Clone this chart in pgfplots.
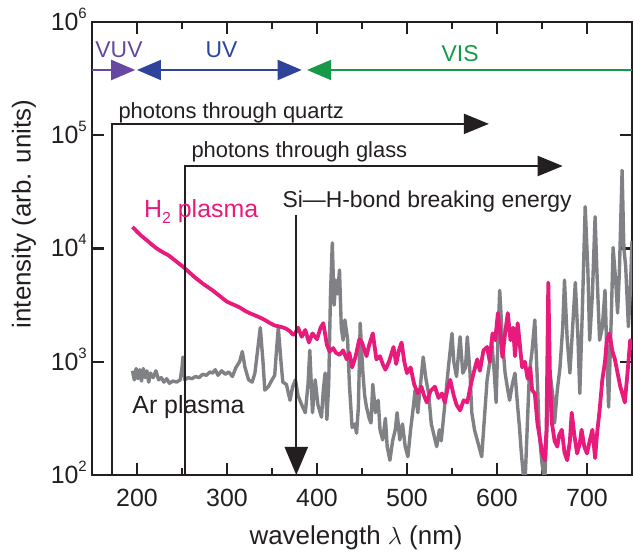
\documentclass[border=0pt]{standalone}
\usepackage{fontspec}
\setmainfont{Liberation Sans}
\usepackage{pgfplots}
\pgfplotsset{compat=1.18}
\usepackage{pgfplotstable}
\usetikzlibrary{arrows.meta}

\definecolor{h2col}{RGB}{232,26,124}
\definecolor{arcol}{RGB}{128,129,132}
\definecolor{vuvcol}{RGB}{102,72,160}
\definecolor{uvcol}{RGB}{46,68,155}
\definecolor{viscol}{RGB}{22,154,72}
\definecolor{ink}{RGB}{35,31,32}

% emission spectrum of the Ar plasma (wavelength in nm, intensity in arb. units)
\pgfplotstableread{
nm  I
195 832
197 692
199 871
201 708
203 851
205 676
207 871
209 724
211 832
213 661
215 794
218 724
221 832
224 692
227 724
230 661
233 708
236 646
240 676
244 661
248 692
250 891
251 1100
253 692
257 724
261 708
265 741
269 724
273 776
277 759
281 813
284 794
287 851
290 759
294 832
298 776
302 813
306 741
310 891
314 1000
317 1230
320 891
324 692
328 661
331 794
334 1260
337 2000
340 1000
342 562
346 603
350 692
353 759
355 1260
357 2000
360 1000
362 661
366 631
370 457
373 603
376 692
379 501
383 417
387 355
390 631
392 1260
395 355
398 692
401 417
405 324
407 562
409 794
411 309
413 631
415 3980
417 11200
419 3160
421 5250
423 3980
425 6460
427 2000
429 1550
431 2340
434 1580
436 631
439 263
442 282
444 234
446 398
448 2190
451 794
453 501
455 398
458 316
460 288
462 631
465 355
468 457
470 251
473 204
476 316
478 178
481 135
484 200
487 251
489 355
492 204
495 282
498 178
501 145
504 251
507 398
509 562
512 355
515 631
518 1100
521 708
524 525
527 282
530 224
533 178
536 251
538 200
540 288
543 501
546 891
548 1260
550 1780
552 1000
555 741
557 1120
559 1660
562 794
565 891
567 1660
570 794
572 355
575 251
578 204
580 178
583 145
586 316
589 692
592 1000
594 1550
597 794
599 437
601 1580
603 4270
606 1580
609 794
612 562
614 457
617 631
620 794
623 398
625 263
627 158
629 105
631 79
633 200
636 794
639 1260
642 2340
645 631
647 234
650 126
653 89
656 316
659 794
662 501
664 288
667 562
670 891
673 2000
675 5250
678 1580
681 794
684 2000
687 5010
690 1580
692 525
695 3160
698 23400
701 6310
703 1550
706 3980
709 19100
711 6310
714 1550
717 2000
720 4270
722 1260
724 398
727 2510
729 10200
732 5010
734 2690
736 6310
739 49000
741 10000
743 6920
746 2040
748 3980
750 11700
}\arplasma

% emission spectrum of the H2 plasma
\pgfplotstableread{
nm  I
195 15500
200 14100
205 12900
210 12000
216 10900
222 10000
228 9330
235 8710
243 7760
251 6920
258 6170
265 5500
274 4840
284 4270
292 3800
300 3390
307 3200
314 3020
320 2820
325 2690
331 2570
337 2450
342 2340
348 2190
353 2090
359 2040
363 2000
366 1950
370 1860
373 1740
375 1740
379 2000
383 1660
387 1910
391 1480
395 1780
400 1580
404 2000
407 2190
411 1410
414 1230
418 1320
421 1200
425 1150
429 1260
433 1050
436 1200
439 891
443 1120
447 1580
450 1480
455 1120
458 1410
462 1780
466 1050
470 1120
473 955
476 851
480 1000
485 1350
488 955
491 1260
494 1480
497 1000
500 794
504 891
508 631
512 525
516 603
519 501
522 437
526 550
531 603
535 479
539 525
542 437
545 575
548 692
552 501
555 417
559 372
563 457
567 437
571 631
574 794
578 1050
581 832
585 1260
589 1350
592 1000
595 1780
598 1550
601 2690
603 2000
606 1100
609 1780
612 2690
615 1550
618 2000
620 1120
623 2190
626 1260
628 891
631 1000
634 708
637 891
639 562
642 525
645 282
648 204
650 158
653 135
655 251
657 5010
659 631
661 288
664 200
667 178
669 224
672 251
675 158
678 135
681 200
683 355
686 224
689 155
692 191
694 251
697 178
700 155
703 200
706 251
709 141
711 224
714 372
717 692
720 1000
722 1550
725 1780
728 1260
731 1050
734 794
737 603
740 501
742 437
745 794
748 1550
750 1260
}\htwoplasma

\newcommand{\pw}[1]{10\raisebox{12bp}{\fontsize{15}{15}\selectfont #1}}
\newcommand{\annfont}{\fontsize{23}{23}\selectfont}
\newcommand{\winfont}{\fontsize{22}{22}\selectfont}
\newcommand{\serfont}{\fontsize{25}{25}\selectfont}

\begin{document}
\begin{tikzpicture}
\begin{axis}[
  scale only axis,
  width=540bp, height=453bp,
  at={(0,0)}, anchor=south west,
  xmin=150, xmax=750,
  ymode=log, ymin=1e2, ymax=1e6,
  xtick={200,300,...,700},
  minor xtick={150,250,...,750},
  ytick={1e2,1e3,1e4,1e5,1e6},
  yticklabels={\pw{2},\pw{3},\pw{4},\pw{5},\pw{6}},
  yminorticks=false,
  xtick pos=both, ytick pos=both,
  tick align=inside,
  major tick length=12bp,
  minor tick length=7bp,
  every tick/.style={ink, line width=2.2bp},
  axis line style={ink, line width=2.5bp},
  /pgf/number format/assume math mode=true,
  /pgf/number format/1000 sep={},
  xticklabel style={font=\fontsize{25}{25}\selectfont, text=ink, anchor=base, yshift=-32bp},
  yticklabel style={font=\fontsize{25}{25}\selectfont, text=ink, anchor=base east, inner sep=0pt, xshift=-5bp, yshift=-8.5bp},
  xlabel={wavelength $\lambda$ (nm)},
  ylabel={intensity (arb. units)},
  every axis x label/.style={at={(axis description cs:0.489,-0.1545)}, anchor=base, font=\fontsize{26}{26}\selectfont, text=ink},
  every axis y label/.style={at={(axis description cs:-0.126,0.576)}, rotate=90, anchor=center, font=\fontsize{26}{26}\selectfont, text=ink},
]

\addplot[arcol, line width=3.4bp, line join=round] table[x=nm, y=I] {\arplasma};
\addplot[h2col, line width=3.8bp, line join=round] table[x=nm, y=I] {\htwoplasma};

% spectral ranges
\draw[vuvcol, line width=2bp, -{Triangle[length=24bp,width=20bp]}]
  (axis cs:150,3.77e5) -- (axis cs:198,3.77e5);
\draw[uvcol, line width=2bp, {Triangle[length=24bp,width=20bp]}-{Triangle[length=24bp,width=20bp]}]
  (axis cs:200,3.77e5) -- (axis cs:383,3.77e5);
\draw[viscol, line width=2bp, -{Triangle[length=24bp,width=20bp]}]
  (axis cs:750,3.77e5) -- (axis cs:389,3.77e5);
\node[vuvcol, anchor=base, font=\annfont] at (axis cs:180,4.9e5) {VUV};
\node[uvcol, anchor=base, font=\annfont] at (axis cs:294,4.9e5) {UV};
\node[viscol, anchor=base, font=\annfont] at (axis cs:559,4.5e5) {VIS};

% transmission windows
\draw[ink, line width=2bp, -{Triangle[length=25bp,width=20bp]}]
  (axis cs:172,1e2) |- (axis cs:591,1.26e5);
\node[ink, anchor=base west, font=\winfont] at (axis cs:175.6,1.42e5) {photons through quartz};
\draw[ink, line width=2bp, -{Triangle[length=25bp,width=20bp]}]
  (axis cs:253,1e2) |- (axis cs:673,5.35e4);
\node[ink, anchor=base west, font=\winfont] at (axis cs:256.7,6.31e4) {photons through glass};

% Si-H bond energy
\draw[ink, line width=2bp, -{Triangle[length=28bp,width=23bp]}]
  (axis cs:377,1.98e4) -- (axis cs:377,1e2);
\node[ink, anchor=base west, font=\annfont] at (axis cs:357.8,2.28e4) {Si—H-bond breaking energy};

% series labels
\node[h2col, anchor=base west, font=\serfont] at (axis cs:204,1.86e4)
  {H\raisebox{-6bp}{\fontsize{16}{16}\selectfont 2} plasma};
\node[ink, anchor=base west, font=\serfont] at (axis cs:191,352) {Ar plasma};
\end{axis}
\pgfresetboundingbox
\path (-92bp,-79bp) rectangle (541bp,475bp);
\end{tikzpicture}
\end{document}
